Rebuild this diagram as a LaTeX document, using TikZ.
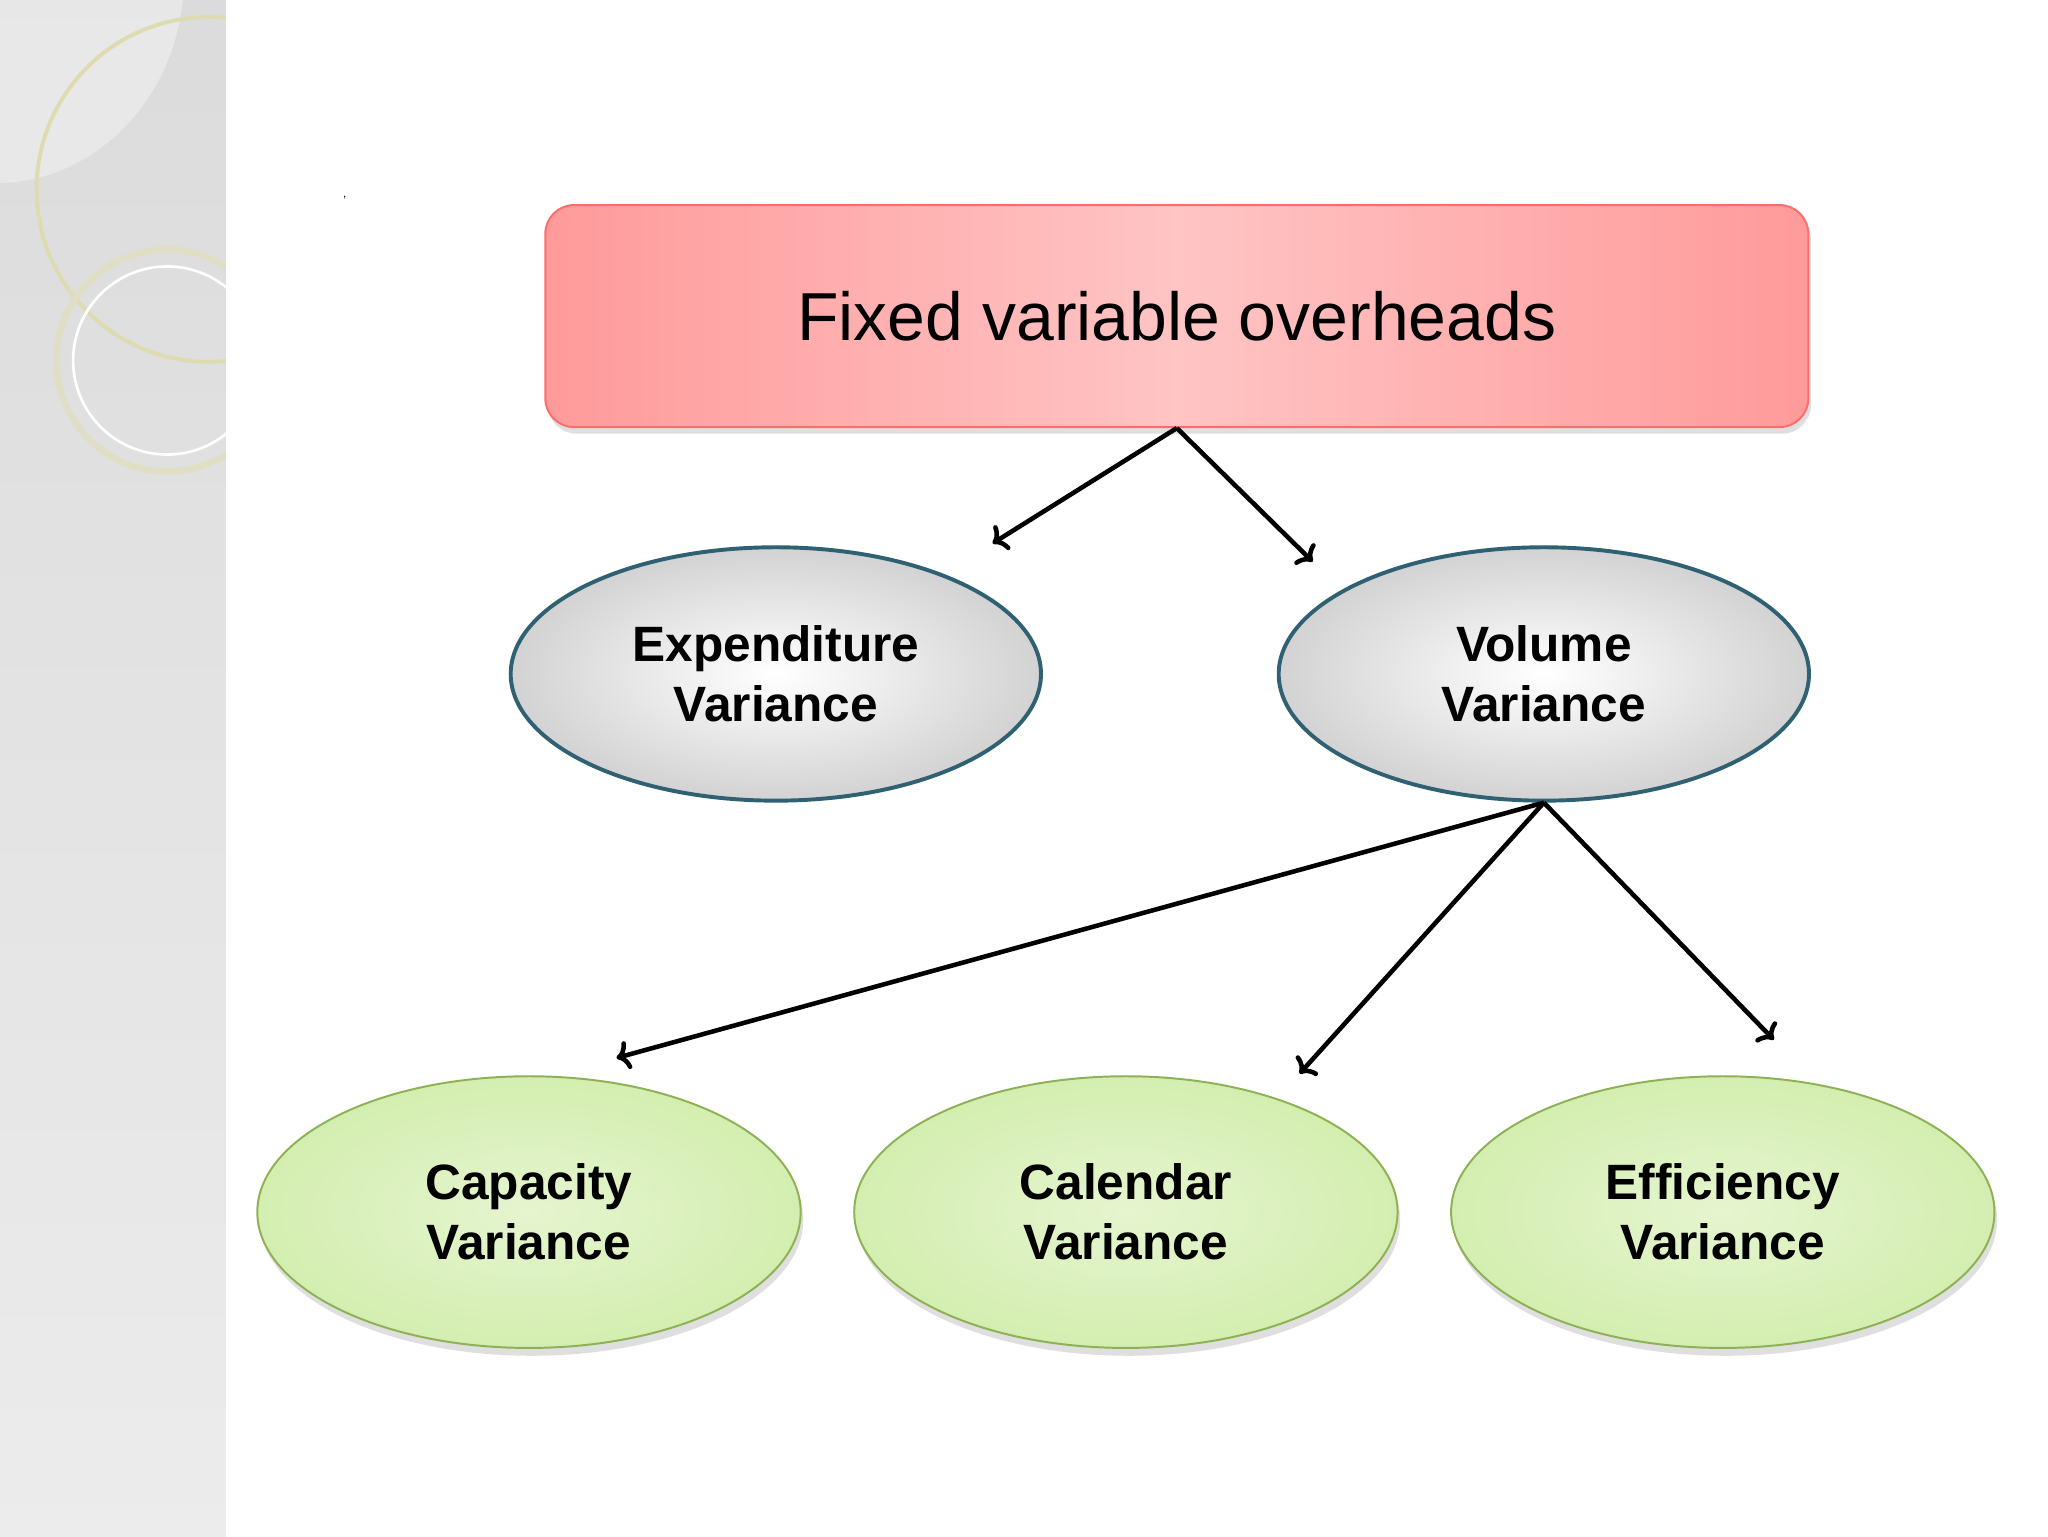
\documentclass[tikz,border=0pt]{standalone}
\usepackage{fontspec}
\setmainfont{Liberation Sans}
\usetikzlibrary{arrows.meta,shapes.geometric,shadows}
\definecolor{pinkA}{HTML}{FF9A9A}
\definecolor{pinkB}{HTML}{FFC4C4}
\definecolor{teal}{HTML}{2F6173}
\definecolor{gfill}{HTML}{D4EEB0}
\definecolor{gdraw}{HTML}{8DB255}
\begin{document}
\begin{tikzpicture}[x=1pt,y=-1pt,
  top/.style={draw=pinkA!70!red,line width=1.5pt,rounded corners=22pt,left color=pinkA,right color=pinkA,middle color=pinkB,minimum width=967pt,minimum height=170pt,font=\fontsize{52}{62}\selectfont,drop shadow={opacity=0.25,shadow xshift=2pt,shadow yshift=-5pt}},
  mid/.style={ellipse,draw=teal,line width=3pt,inner color=white,outer color=gray!35,minimum width=406pt,minimum height=194pt,font=\bfseries\fontsize{38}{46}\selectfont,align=center},
  leaf/.style={ellipse,draw=gdraw,line width=1.5pt,inner color=gfill!60,outer color=gfill,minimum width=416pt,minimum height=208pt,font=\bfseries\fontsize{38}{46}\selectfont,align=center,drop shadow={opacity=0.25,shadow xshift=2pt,shadow yshift=-6pt}},
  arr/.style={line width=3.5pt,-{To[length=10pt,width=22pt]}}]
\useasboundingbox (0,0) rectangle (1568,1176);
\fill[white] (0,0) rectangle (1568,1176);
\shade[top color=gray!28,bottom color=gray!15] (0,0) rectangle (173,1176);
\begin{scope}
\clip (0,0) rectangle (173,1176);
\fill[white,opacity=0.35] (0,0) -- (0,140) .. controls (60,140) and (130,90) .. (140,0) -- cycle;
\draw[yellow!40!gray!50,line width=3pt] (160,145) circle[radius=132];
\draw[yellow!30!gray!40,line width=5pt] (128,276) circle[radius=85];
\draw[white,line width=2pt] (128,276) circle[radius=72];
\end{scope}
\node at (264,151) {\small ,};
\node[top] (t) at (901,242) {Fixed variable overheads};
\node[mid] (e) at (594,516) {Expenditure\\Variance};
\node[mid] (v) at (1182,516) {Volume\\Variance};
\node[leaf] (c1) at (405,928) {Capacity\\Variance};
\node[leaf] (c2) at (862,928) {Calendar\\Variance};
\node[leaf] (c3) at (1319,928) {Efficiency\\Variance};
\coordinate (a1) at (760,416);
\coordinate (a2) at (1005,430);
\coordinate (b1) at (472,810);
\coordinate (b2) at (995,822);
\coordinate (b3) at (1358,796);
\draw[arr] (t.south) -- (a1);
\draw[arr] (t.south) -- (a2);
\draw[arr] (v.south) -- (b1);
\draw[arr] (v.south) -- (b2);
\draw[arr] (v.south) -- (b3);
\end{tikzpicture}
\end{document}
